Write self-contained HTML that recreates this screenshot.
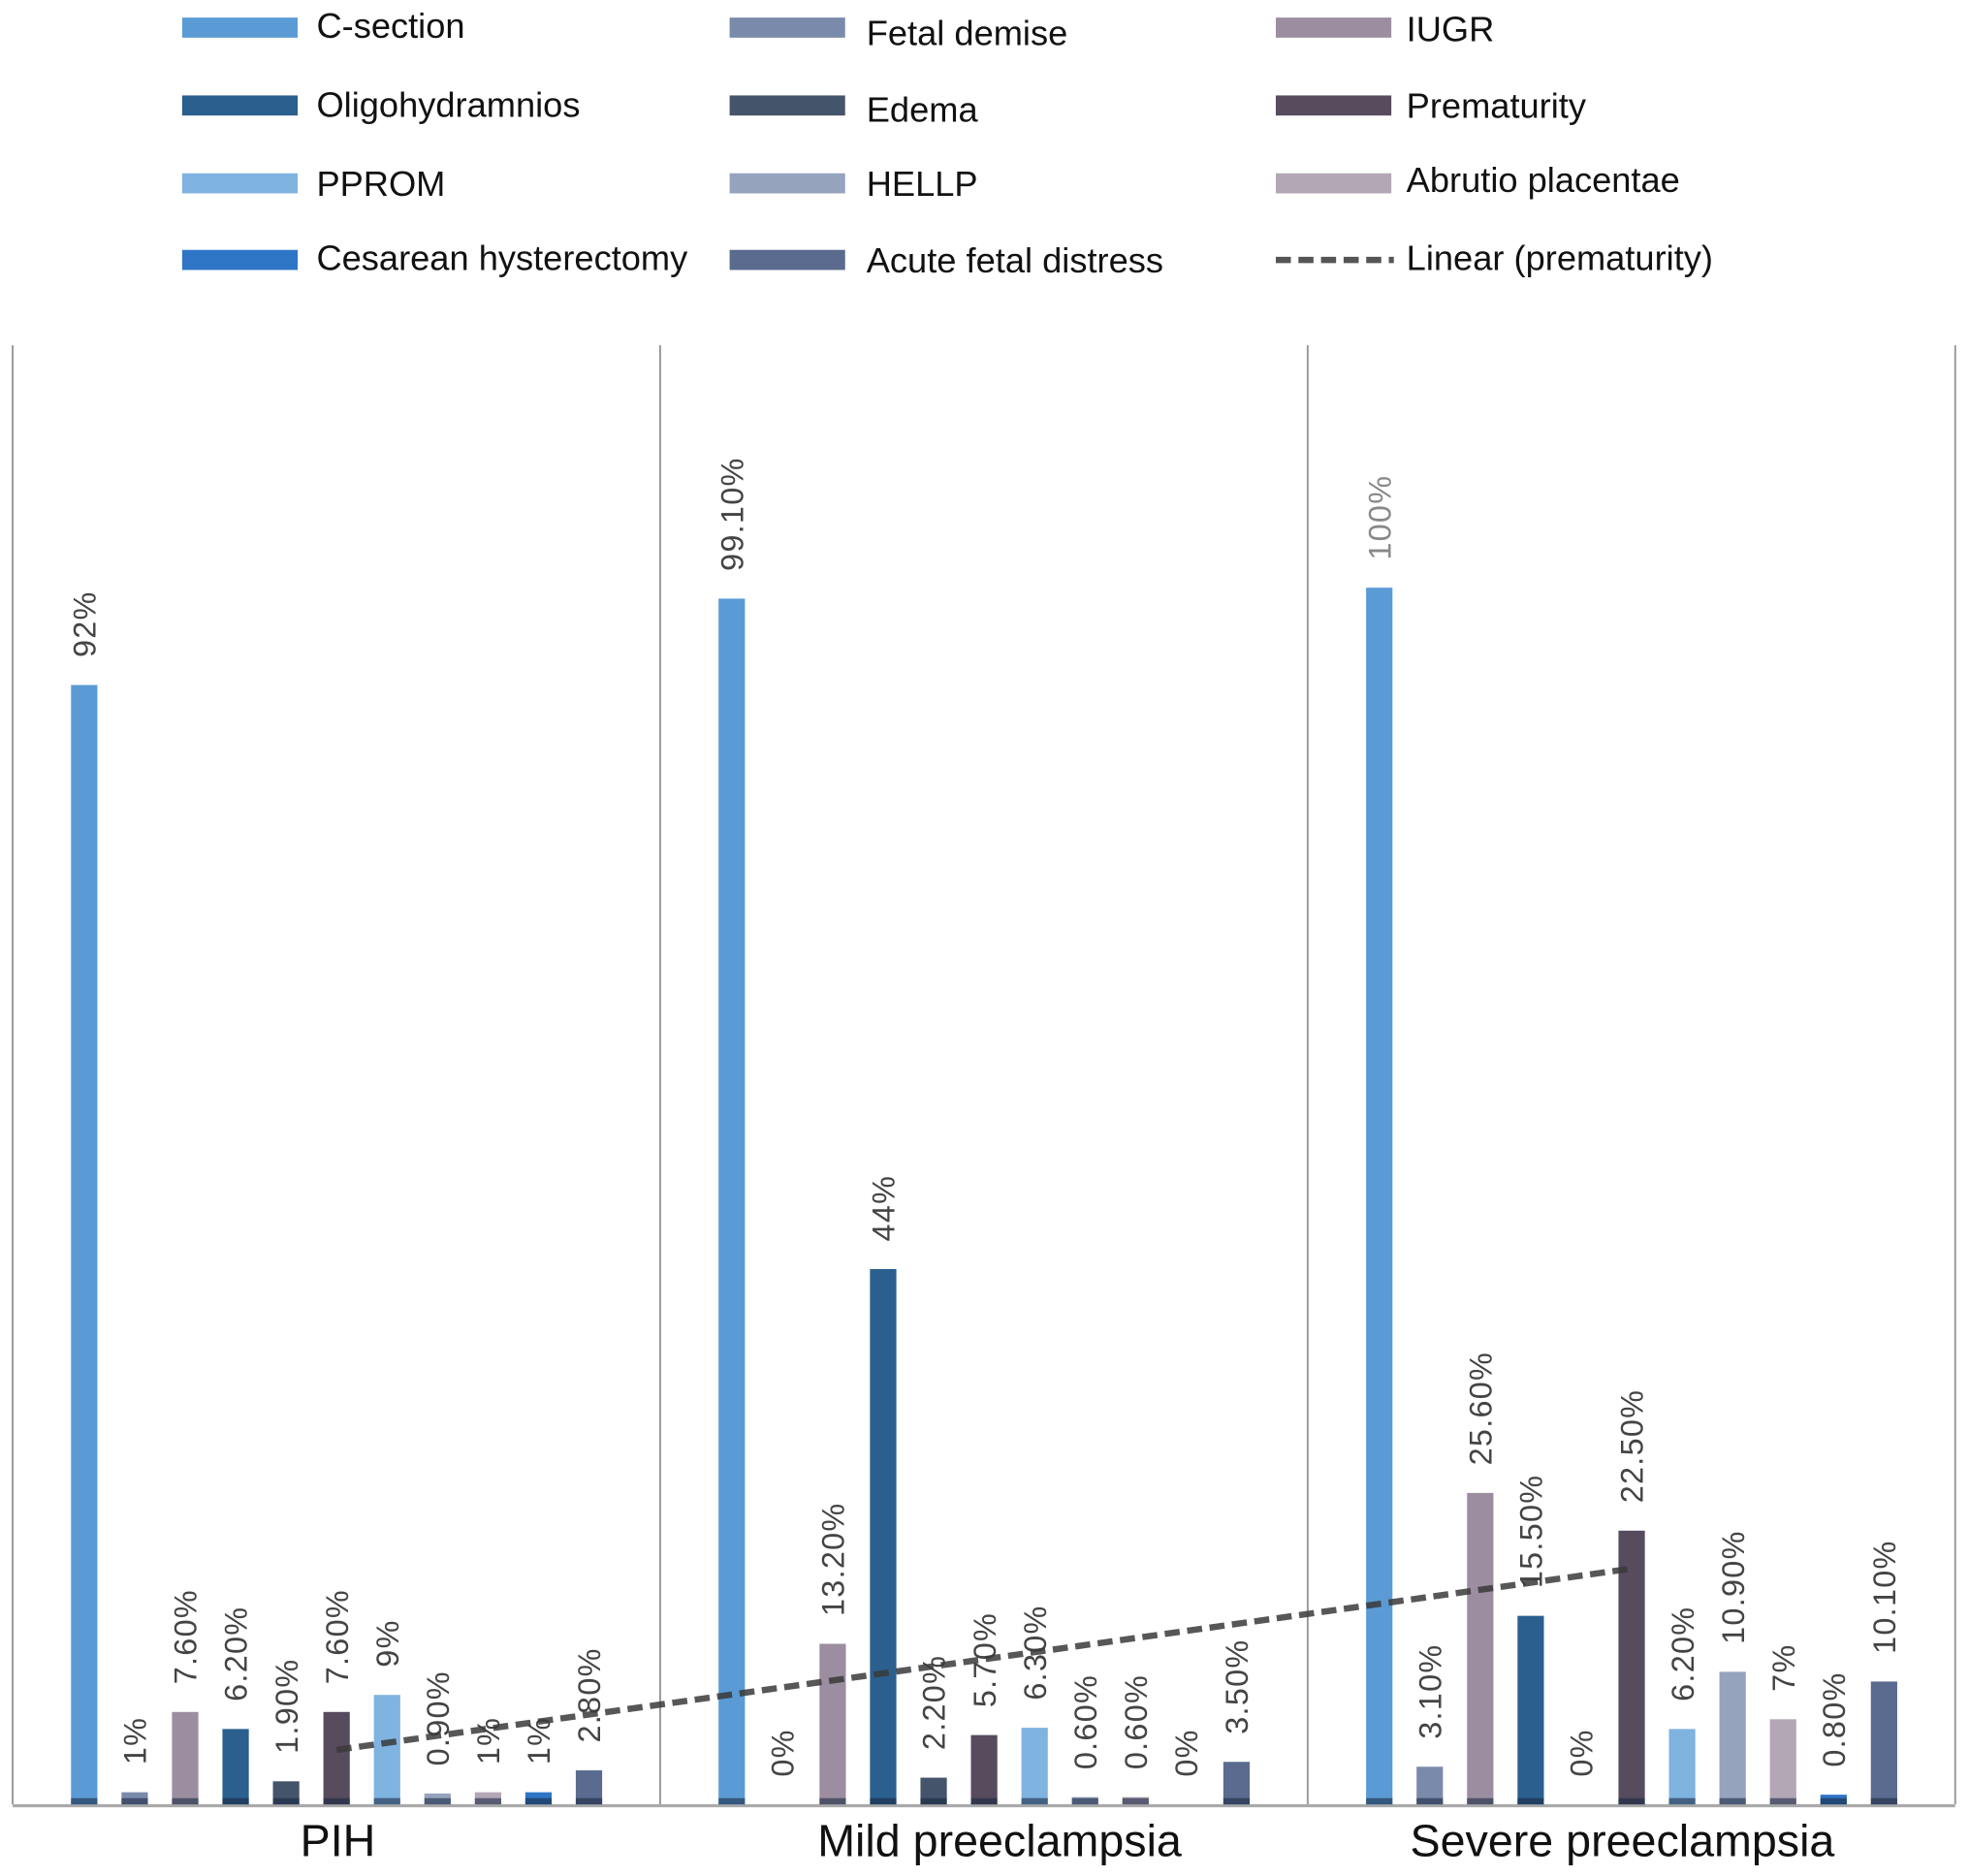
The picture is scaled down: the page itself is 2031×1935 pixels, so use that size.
<!DOCTYPE html>
<html><head><meta charset="utf-8"><style>
html,body{margin:0;padding:0;background:#fff;}
svg{display:block;font-family:"Liberation Sans",sans-serif;}
</style></head><body>
<svg id="chart" width="2031" height="1935" viewBox="0 0 1568 1494" xmlns="http://www.w3.org/2000/svg">
<rect width="1568" height="1494" fill="#fff"/>
<g id="legend"></g>
<g id="frame"></g>
<g id="bars"></g>
<g id="labels"></g>
<g id="trend"></g>
<g id="cats"></g>
</svg>
<script>
const categories = ["PIH", "Mild preeclampsia", "Severe preeclampsia"];
const seriesNames = ["C-section","Fetal demise","IUGR","Oligohydramnios","Edema","Prematurity","PPROM","HELLP","Abrutio placentae","Cesarean hysterectomy","Acute fetal distress"];
const pihValues = [92, 1, 7.6, 6.2, 1.9, 7.6, 9, 0.9, 1, 1, 2.8];
const mildValues = [99.1, 0, 13.2, 44, 2.2, 5.7, 6.3, 0.6, 0.6, 0, 3.5];
const severeValues = [100, 3.1, 25.6, 15.5, 0, 22.5, 6.2, 10.9, 7, 0.8, 10.1];
const pihLabels = ["92%","1%","7.60%","6.20%","1.90%","7.60%","9%","0.90%","1%","1%","2.80%"];
const mildLabels = ["99.10%","0%","13.20%","44%","2.20%","5.70%","6.30%","0.60%","0.60%","0%","3.50%"];
const severeLabels = ["100%","3.10%","25.60%","15.50%","0%","22.50%","6.20%","10.90%","7%","0.80%","10.10%"];
const colors = ["#5b9bd5","#7a8aaa","#9c8ea0","#2a5f8e","#44546a","#574b5e","#7fb3e0","#95a3bd","#b3a6b5","#2e75c6","#5a6b8f"];
const trendIndex = 5;

const NS = "http://www.w3.org/2000/svg";
function mk(tag, attrs, parent){const e=document.createElementNS(NS,tag);for(const k in attrs)e.setAttribute(k,attrs[k]);parent.appendChild(e);return e;}
const baseY = 1437, pxPer = 9.69, groupW = 515.7, left = 10, barStep = 40.2, firstOff = 57, barW = 21;
function yScale(v){return baseY - v*pxPer;}
function xScale(g,i){return left + g*groupW + firstOff + i*barStep;}

const frame=document.getElementById('frame');
for(let g=0;g<=3;g++){
  const l=mk('line',{x1:left+g*groupW,x2:left+g*groupW,y1:275,y2:baseY,stroke:'#999','stroke-width':1.5},frame);
  
  
}
const ax=mk('line',{x1:left,x2:1557,y1:baseY+1,y2:baseY+1,stroke:'#aaa','stroke-width':2.5},frame);



const allValues=[pihValues,mildValues,severeValues];
const allLabels=[pihLabels,mildLabels,severeLabels];
const barsG=document.getElementById('bars'), labG=document.getElementById('labels');
allValues.forEach((vals,g)=>{
  vals.forEach((v,i)=>{
    const cx=xScale(g,i), top=yScale(v), h=baseY-top;
    if(h>0){
      const r=mk('rect',{x:cx-barW/2,y:top,width:barW,height:h,fill:colors[i]},barsG);
      
      
      const b=mk('rect',{x:cx-barW/2,y:baseY-Math.min(5,h),width:barW,height:Math.min(5,h),fill:'#1b2a44',opacity:0.6},barsG);
      
      
    }
    const ty=top-22;
    const t=mk('text',{x:0,y:0,transform:`translate(${cx+9},${ty}) rotate(-90)`,'font-size':25,'letter-spacing':1,fill:(v===100?'#888':'#444')},labG);
    t.textContent=allLabels[g][i];
    
    
  });
});

const tv=allValues.map(a=>a[trendIndex]);
const n=tv.length, mx=(n-1)/2, my=tv.reduce((a,b)=>a+b,0)/n;
let sxy=0,sxx=0;tv.forEach((v,k)=>{sxy+=(k-mx)*(v-my);sxx+=(k-mx)*(k-mx);});
const slope=sxy/sxx, icp=my-slope*mx;
const trendG=document.getElementById('trend');
const tl=mk('line',{x1:xScale(0,trendIndex),y1:yScale(icp),x2:xScale(n-1,trendIndex),y2:yScale(icp+slope*(n-1)),stroke:'#3a3a3a','stroke-width':5,'stroke-dasharray':'12 6',opacity:0.85},trendG);



const catG=document.getElementById('cats');
const catX=[269,796,1292];
categories.forEach((c,g)=>{
  const t=mk('text',{x:catX[g],y:1478,'text-anchor':'middle','font-size':36,fill:'#111'},catG);
  t.textContent=c;
  
  
});

const legG=document.getElementById('legend');
const legendOrder=[[0,3,6,9],[1,4,7,10],[2,5,8,-1]];
const colX=[145,581,1016], textX=[252,690,1120], rowY=[22,84,146,207], rowYText=[[20,83,146,205],[26,87,146,207],[23,84,143,205]];
legendOrder.forEach((col,ci)=>{
  col.forEach((si,ri)=>{
    const y=rowY[ri];
    const name = si<0 ? "Linear (prematurity)" : seriesNames[si];
    if(si<0){
      const l=mk('line',{x1:colX[ci],x2:colX[ci]+94,y1:y,y2:y,stroke:'#555','stroke-width':5,'stroke-dasharray':'12 6'},legG);
      
      
    } else {
      const r=mk('rect',{x:colX[ci],y:y-8,width:92,height:16,fill:colors[si]},legG);
      
      
    }
    const t=mk('text',{x:textX[ci],y:rowYText[ci][ri]+10,'font-size':28,fill:'#111'},legG);
    t.textContent=name;
    
    
  });
});
</script>
</body></html>
